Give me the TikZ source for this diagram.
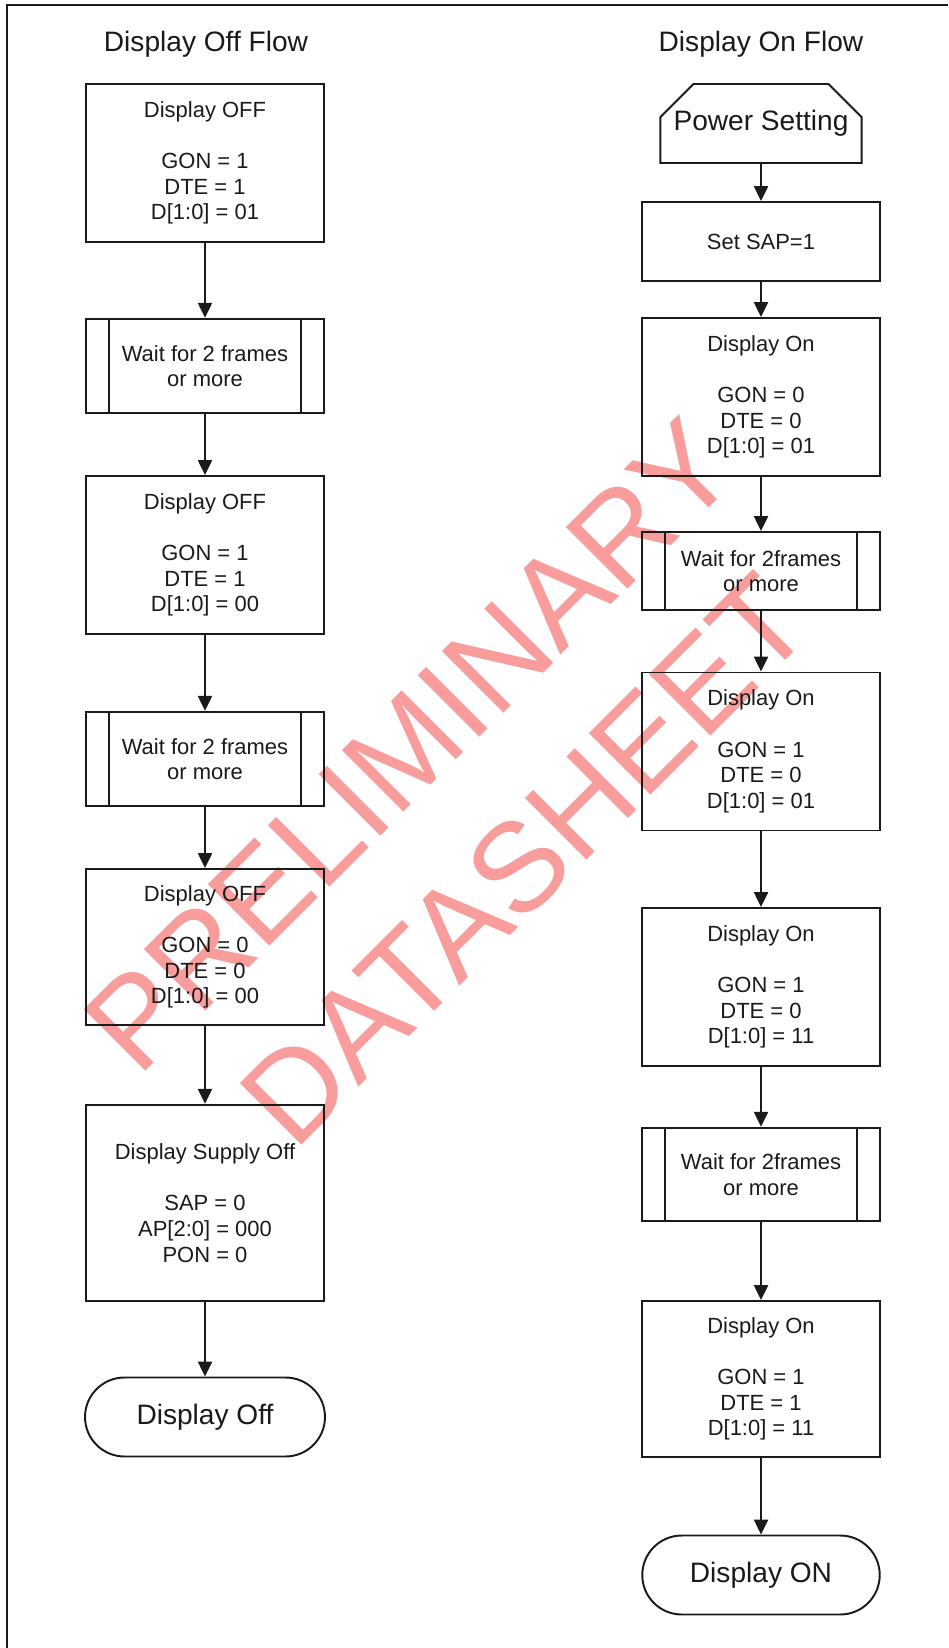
\documentclass[tikz,border=0pt]{standalone}
\usepackage{fontspec}
\setsansfont{Liberation Sans}
\usetikzlibrary{arrows.meta,shapes.misc,backgrounds}
\definecolor{inkblack}{HTML}{1a1a1a}
\definecolor{stampred}{HTML}{F89C9C}

\begin{document}
\begin{tikzpicture}[
    x=0.02cm, y=-0.02cm,
    >={Triangle[length=8.5pt,width=8pt]},
    every node/.style={font=\sffamily},
    flowtitle/.style={
        text=inkblack,
        font=\sffamily\fontsize{16}{19}\selectfont,
    },
    procbox/.style={
        draw=inkblack,
        line width=1.1pt,
        minimum width=4.75cm,
        minimum height=3.16cm,
        inner sep=0pt,
        align=center,
        text=inkblack,
        font=\sffamily\fontsize{12.5}{14.6}\selectfont,
    },
    waitbox/.style={
        procbox,
        minimum height=1.89cm,
        path picture={
            \draw[line width=1.1pt,inkblack]
                ([xshift=0.46cm]path picture bounding box.north west) --
                ([xshift=0.46cm]path picture bounding box.south west);
            \draw[line width=1.1pt,inkblack]
                ([xshift=-0.46cm]path picture bounding box.north east) --
                ([xshift=-0.46cm]path picture bounding box.south east);
        },
    },
    prepbox/.style={
        chamfered rectangle,
        chamfered rectangle corners={north west,north east},
        chamfered rectangle xsep=0.3cm,
        chamfered rectangle ysep=0.4cm,
        draw=inkblack,
        line width=1.1pt,
        minimum width=4.02cm,
        minimum height=1.58cm,
        inner sep=0pt,
        text=inkblack,
        font=\sffamily\fontsize{16}{19}\selectfont,
    },
    termbox/.style={
        rounded rectangle,
        draw=inkblack,
        line width=1.1pt,
        minimum width=4.8cm,
        minimum height=1.58cm,
        inner sep=0pt,
        text=inkblack,
        font=\sffamily\fontsize{16}{19}\selectfont,
    },
    arr/.style={->,line width=1.1pt,color=inkblack},
    frameline/.style={line width=1.3pt,color=inkblack},
    stamp/.style={
        rotate=45,
        inner sep=0pt,
        text=stampred,
        font=\sffamily\fontsize{72}{86}\selectfont,
    },
]

\useasboundingbox (0,0) rectangle (948,1648);

% === Page frame ===
\draw[frameline] (7,1648) -- (7,5) -- (948,5);

% === Titles ===
\node[flowtitle] (offtitle) at (206,44) {Display Off Flow};
\node[flowtitle] (ontitle) at (761,44) {Display On Flow};

% === Left: display off flow ===
\node[procbox] (off1) at (205,163) {
    Display OFF\\[14.6pt]
    GON = 1\\DTE = 1\\D[1:0] = 01
};
\node[waitbox] (offwait1) at (205,366) {Wait for 2 frames\\or more};
\node[procbox] (off2) at (205,555) {
    Display OFF\\[14.6pt]
    GON = 1\\DTE = 1\\D[1:0] = 00
};
\node[waitbox] (offwait2) at (205,759) {Wait for 2 frames\\or more};
\node[procbox,minimum height=3.12cm] (off3) at (205,947) {
    Display OFF\\[14.6pt]
    GON = 0\\DTE = 0\\D[1:0] = 00
};
\node[procbox,minimum height=3.93cm] (supplyoff) at (205,1203) {
    Display Supply Off\\[14.6pt]
    SAP = 0\\AP[2:0] = 000\\PON = 0
};
\node[termbox] (dispoff) at (205,1417) {Display Off};

% === Right: display on flow ===
\node[prepbox] (power) at (761,123.5) {Power Setting};
\node[procbox,minimum height=1.58cm] (setsap) at (761,241.5) {Set SAP=1};
\node[procbox] (on1) at (761,397) {
    Display On\\[14.6pt]
    GON = 0\\DTE = 0\\D[1:0] = 01
};
\node[waitbox,minimum height=1.56cm] (onwait1) at (761,571) {Wait for 2frames\\or more};
\node[procbox] (on2) at (761,751.5) {
    Display On\\[14.6pt]
    GON = 1\\DTE = 0\\D[1:0] = 01
};
\node[procbox] (on3) at (761,987) {
    Display On\\[14.6pt]
    GON = 1\\DTE = 0\\D[1:0] = 11
};
\node[waitbox,minimum height=1.87cm] (onwait2) at (761,1174.5) {Wait for 2frames\\or more};
\node[procbox,minimum height=3.12cm] (on4) at (761,1379) {
    Display On\\[14.6pt]
    GON = 1\\DTE = 1\\D[1:0] = 11
};
\node[termbox,minimum width=4.75cm] (dispon) at (761,1575) {Display ON};

% === Arrows: off flow ===
\draw[arr] (off1) -- (offwait1);
\draw[arr] (offwait1) -- (off2);
\draw[arr] (off2) -- (offwait2);
\draw[arr] (offwait2) -- (off3);
\draw[arr] (off3) -- (supplyoff);
\draw[arr] (supplyoff) -- (dispoff);

% === Arrows: on flow ===
\draw[arr] (power) -- (setsap);
\draw[arr] (setsap) -- (on1);
\draw[arr] (on1) -- (onwait1);
\draw[arr] (onwait1) -- (on2);
\draw[arr] (on2) -- (on3);
\draw[arr] (on3) -- (onwait2);
\draw[arr] (onwait2) -- (on4);
\draw[arr] (on4) -- (dispon);

% === Watermark ===
\begin{scope}[on background layer]
    \node[stamp] (stamp1) at (410,745) {PRELIMINARY};
    \node[stamp] (stamp2) at (525,860) {DATASHEET};
\end{scope}

\end{tikzpicture}
\end{document}
